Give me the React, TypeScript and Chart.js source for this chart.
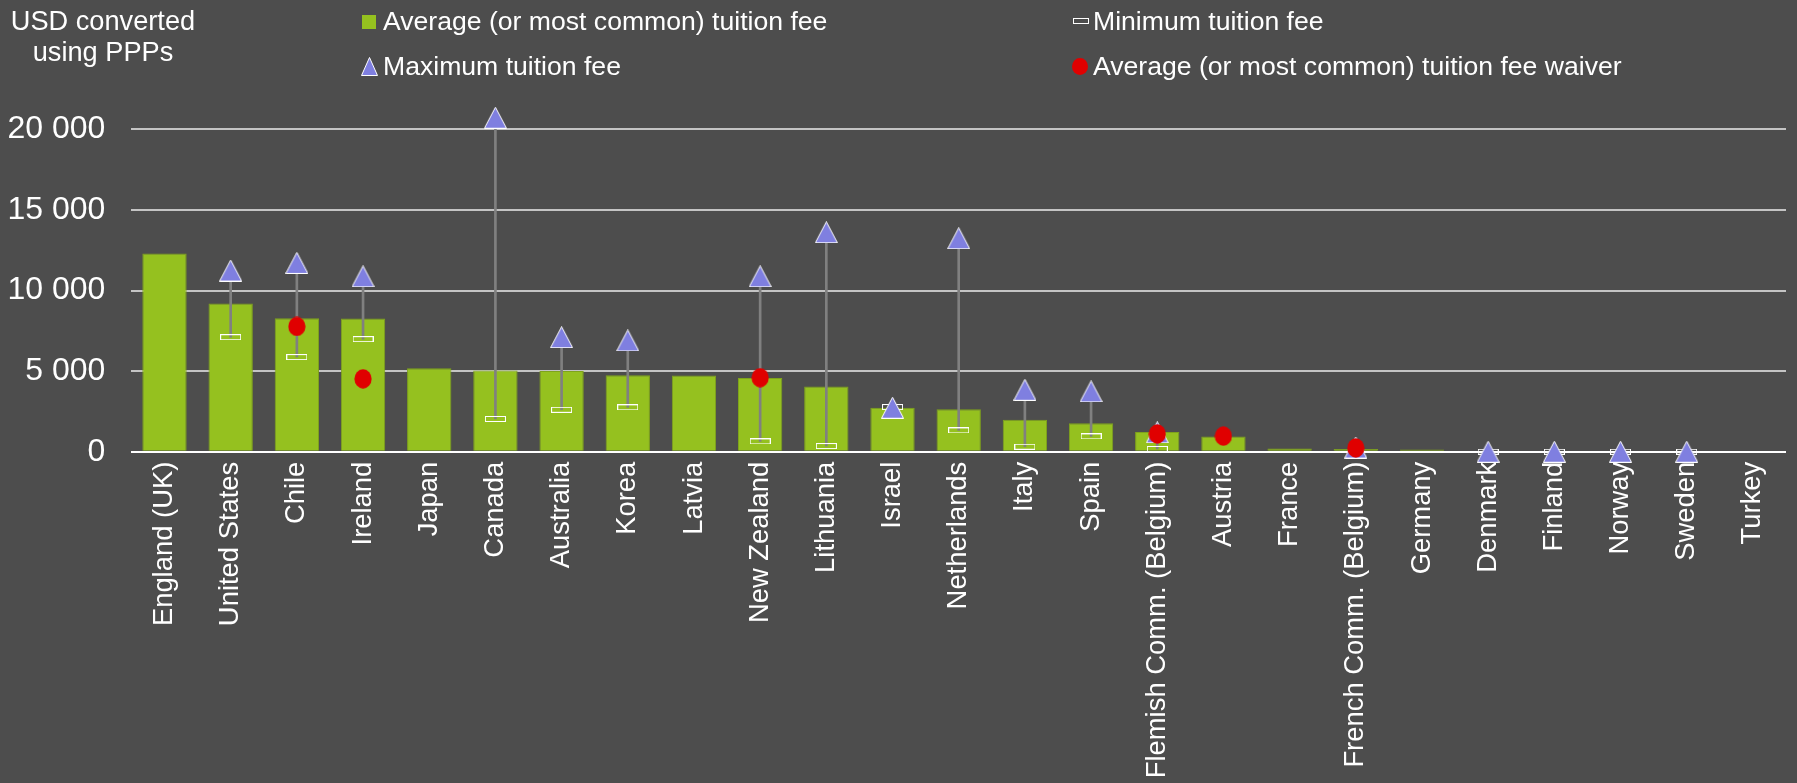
import React, { useEffect, useRef } from "react";
import { Chart, registerables } from "chart.js";

Chart.register(...registerables);

// ---------- data ----------
const countries = [
  "England (UK)", "United States", "Chile", "Ireland", "Japan", "Canada", "Australia", "Korea",
  "Latvia", "New Zealand", "Lithuania", "Israel", "Netherlands", "Italy", "Spain",
  "Flemish Comm. (Belgium)", "Austria", "France", "French Comm. (Belgium)", "Germany",
  "Denmark", "Finland", "Norway", "Sweden", "Turkey",
];
const avgFee = [
  12290, 9190, 8280, 8260, 5170, 5040, 5000, 4750,
  4730, 4570, 4050, 2730, 2630, 1980, 1760,
  1220, 950, 200, 170, 130,
  0, 0, 0, 0, null,
];
const minFee = [
  null, 7100, 5870, 6980, null, 2030, 2600, 2750,
  null, 640, 350, 2770, 1320, 310, 950,
  170, null, null, null, null,
  0, 0, 0, 0, null,
];
const maxFee = [
  null, 11240, 11710, 10880, null, 20720, 7100, 6900,
  null, 10880, 13610, 2730, 13240, 3840, 3740,
  1200, null, null, 260, null,
  0, 0, 0, 0, null,
];
const waiverFee = [
  null, null, 7770, 4520, null, null, null, null,
  null, 4590, null, null, null, null, null,
  1100, 970, null, 230, null,
  null, null, null, null, null,
];
const yTicks = [0, 5000, 10000, 15000, 20000];
const legendLabels = [
  "Average (or most common) tuition fee",
  "Minimum tuition fee",
  "Maximum tuition fee",
  "Average (or most common) tuition fee waiver",
];
const axisTitle = ["USD converted", "using PPPs"];

// ---------- style ----------
const BG = "#4D4D4D";
const GREEN = "#95C11F";
const GREEN_EDGE = "#7FA31B";
const TRI = "#7F7FE0";
const RED = "#E00000";
const CONNECT = "#808080";
const GRID = "#C4C4C4";
const FONT = "Arial, 'Liberation Sans', sans-serif";
const Y_MAX = 20000;

function makeCanvas(w: number, h: number, draw: (c: CanvasRenderingContext2D) => void) {
  const c = document.createElement("canvas");
  c.width = w;
  c.height = h;
  const ctx = c.getContext("2d");
  if (ctx) draw(ctx);
  return c;
}

function fmt(v: number) {
  return String(v).replace(/\B(?=(\d{3})+(?!\d))/g, " ");
}

export default function App() {
  const canvasRef = useRef<HTMLCanvasElement | null>(null);

  useEffect(() => {
    const canvas = canvasRef.current;
    if (!canvas) return;

    const triangle = makeCanvas(23, 22, (c) => {
      c.beginPath();
      c.moveTo(11.5, 0.5);
      c.lineTo(22.5, 21.5);
      c.lineTo(0.5, 21.5);
      c.closePath();
      c.fillStyle = TRI;
      c.fill();
      c.strokeStyle = "#FFFFFF";
      c.lineWidth = 1;
      c.stroke();
    });
    const minMark = makeCanvas(21, 6, (c) => {
      c.strokeStyle = "#FFFFFF";
      c.lineWidth = 1;
      c.strokeRect(0.5, 0.5, 20, 5);
    });
    const dot = makeCanvas(18, 20, (c) => {
      c.beginPath();
      c.ellipse(9, 10, 8.6, 9.7, 0, 0, Math.PI * 2);
      c.fillStyle = RED;
      c.fill();
    });

    const connector = countries.map((_, i) =>
      minFee[i] != null && maxFee[i] != null ? [minFee[i] as number, maxFee[i] as number] : null
    );

    const chart = new Chart(canvas, {
      type: "bar",
      data: {
        labels: countries,
        datasets: [
          {
            type: "bar",
            label: legendLabels[0],
            data: avgFee as any,
            backgroundColor: GREEN,
            borderColor: GREEN_EDGE,
            borderWidth: 1,
            grouped: false,
            barPercentage: 0.67,
            categoryPercentage: 1,
            order: 5,
          },
          {
            type: "bar",
            label: "range",
            data: connector as any,
            backgroundColor: CONNECT,
            borderWidth: 0,
            grouped: false,
            barThickness: 2,
            clip: false as any,
            order: 4,
          },
          {
            type: "line",
            label: legendLabels[1],
            data: minFee as any,
            showLine: false,
            pointStyle: minMark as any,
            pointRadius: 8,
            clip: false as any,
            order: 3,
          },
          {
            type: "line",
            label: legendLabels[2],
            data: maxFee as any,
            showLine: false,
            pointStyle: triangle as any,
            // larger hit radius only for markers above the axis maximum, so they are not culled
            pointRadius: (ctx: any) => ((ctx.raw ?? 0) > Y_MAX ? 30 : 10),
            clip: false as any,
            order: 2,
          },
          {
            type: "line",
            label: legendLabels[3],
            data: waiverFee as any,
            showLine: false,
            pointStyle: dot as any,
            pointRadius: 9,
            clip: false as any,
            order: 1,
          },
        ],
      },
      options: {
        responsive: false,
        animation: false,
        devicePixelRatio: 1,
        events: [],
        layout: { padding: { top: 129.3, right: 10.6, left: 0, bottom: 0 } },
        plugins: {
          legend: { display: false },
          tooltip: { enabled: false },
          title: { display: false },
        },
        scales: {
          x: {
            type: "category",
            grid: { display: false, drawTicks: false },
            border: { display: false },
            ticks: {
              autoSkip: false,
              minRotation: 90,
              maxRotation: 90,
              padding: 10,
              color: "#FFFFFF",
              font: { family: FONT, size: 27.4 },
            },
            afterFit: (s: any) => {
              s.height = 783 - 451.7;
            },
          },
          y: {
            min: 0,
            max: Y_MAX,
            afterBuildTicks: (s: any) => {
              s.ticks = yTicks.map((v) => ({ value: v }));
            },
            grid: {
              drawTicks: false,
              lineWidth: 2,
              color: (ctx: any) => (ctx.tick && ctx.tick.value === 0 ? "#FFFFFF" : GRID),
            },
            border: { display: false },
            ticks: {
              padding: 26,
              color: "#FFFFFF",
              font: { family: FONT, size: 32 },
              callback: (v: any) => fmt(Number(v)),
            },
            afterFit: (s: any) => {
              s.width = 131.4;
            },
          },
        },
      },
    });
    return () => chart.destroy();
  }, []);

  const textStyle: React.CSSProperties = {
    position: "absolute",
    color: "#FFFFFF",
    fontFamily: FONT,
    fontSize: 26.6,
    lineHeight: "26.6px",
    whiteSpace: "nowrap",
  };

  return (
    <div style={{ position: "fixed", left: 0, top: 0, width: 1797, height: 783, background: BG, overflow: "hidden" }}>
      <canvas ref={canvasRef} width={1797} height={783} style={{ position: "absolute", left: 0, top: 0, width: 1797, height: 783 }} />
      {/* axis title */}
      <div style={{ ...textStyle, fontSize: 27.2, left: 0, top: 7.5, width: 206, textAlign: "center" }}>{axisTitle[0]}</div>
      <div style={{ ...textStyle, fontSize: 27.2, left: 0, top: 38.5, width: 206, textAlign: "center" }}>{axisTitle[1]}</div>
      {/* legend */}
      <div style={{ position: "absolute", left: 362, top: 15, width: 14, height: 14, background: GREEN }} />
      <div style={{ ...textStyle, left: 383, top: 7.5 }}>{legendLabels[0]}</div>
      <svg style={{ position: "absolute", left: 361, top: 57 }} width={17} height={19}>
        <polygon points="8.5,0.5 16.5,18.5 0.5,18.5" fill={TRI} stroke="#FFFFFF" strokeWidth={1} />
      </svg>
      <div style={{ ...textStyle, left: 383, top: 53 }}>{legendLabels[2]}</div>
      <div style={{ position: "absolute", left: 1073, top: 18, width: 14, height: 4, border: "1px solid #FFFFFF" }} />
      <div style={{ ...textStyle, left: 1093, top: 7.5 }}>{legendLabels[1]}</div>
      <div style={{ position: "absolute", left: 1072, top: 58, width: 16, height: 17, borderRadius: "50%", background: RED }} />
      <div style={{ ...textStyle, left: 1093, top: 53 }}>{legendLabels[3]}</div>
    </div>
  );
}
